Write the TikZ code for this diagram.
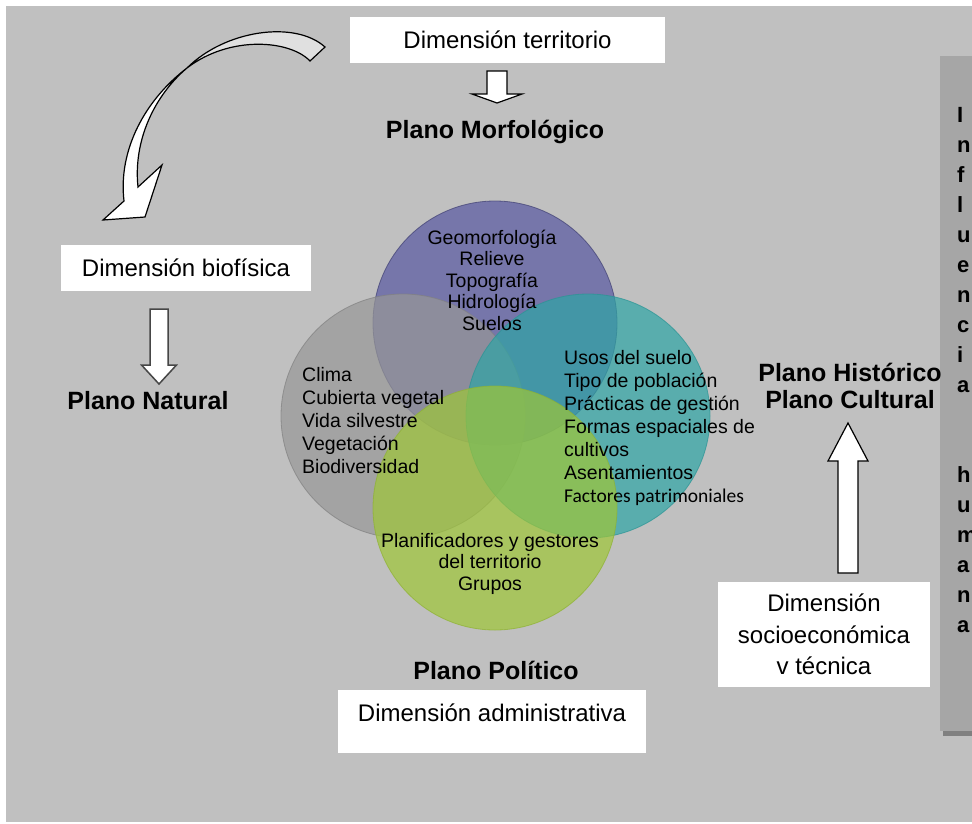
\documentclass[tikz,border=0pt]{standalone}
\usepackage{fontspec}
\setmainfont{Liberation Sans}
\newfontfamily\calibrifont{Carlito}
\usetikzlibrary{positioning}

\definecolor{bggrey}{HTML}{C0C0C0}
\definecolor{panelgrey}{HTML}{A6A6A6}
\definecolor{shadowgrey}{HTML}{808080}
\definecolor{vpurple}{HTML}{5858A1}
\definecolor{vgrey}{HTML}{979797}
\definecolor{vteal}{HTML}{2EA5A5}
\definecolor{vgreen}{HTML}{9EC637}
\colorlet{vpurpleline}{vpurple!70!black}
\colorlet{vgreyline}{vgrey!85!black}
\colorlet{vtealline}{vteal!90!black}
\colorlet{vgreenline}{vgreen!90!black}

\tikzset{>=latex}
\tikzstyle{whitebox}=[fill=white,inner sep=0pt,font=\fontsize{24}{31.5}\selectfont]
\tikzstyle{boxtext}=[inner sep=0pt,font=\fontsize{24}{31.5}\selectfont]
\tikzstyle{plane}=[inner sep=0pt,align=center,font=\bfseries\fontsize{25}{27}\selectfont]
\tikzstyle{venn}=[circle,minimum size=244pt,inner sep=0pt,opacity=0.7,line width=0.8pt]
\tikzstyle{venntext}=[inner sep=0pt,font=\fontsize{19.5}{23}\selectfont]
\tikzstyle{letter}=[inner sep=0pt,anchor=base west,font=\bfseries\fontsize{22}{30}\selectfont]
\tikzstyle{blockarrow}=[fill=white,draw=black,line width=1.2pt,line join=miter]

% block arrow: x, y start, y of head, y of tip, half shaft, half head
\newcommand{\blockarr}[7][]{%
  \draw[blockarrow,#1] (#2-#6,#3) -- (#2+#6,#3) -- (#2+#6,#4) -- (#2+#7,#4)
    -- (#2,#5) -- (#2-#7,#4) -- (#2-#6,#4) -- cycle;}

\begin{document}
\begin{tikzpicture}[x=1pt,y=-1pt]
  \useasboundingbox (0,0) rectangle (972,823);
  \fill[white] (0,0) rectangle (972,823);
  \fill[bggrey] (6,6) rectangle (972,822);

  % side panel
  \fill[shadowgrey] (943,731) rectangle (972,736);
  \fill[panelgrey] (940,56) rectangle (972,731);
  \foreach \ch [count=\i] in {I,n,f,l,u,e,n,c,i,a}
    \node[letter] (inf\i) at (957,{122+30*(\i-1)}) {\ch};
  \foreach \ch [count=\i] in {h,u,m,a,n,a}
    \node[letter] (hum\i) at (957,{482+30*(\i-1)}) {\ch};

  % venn circles
  \node[venn,fill=vpurple,draw=vpurpleline] (geo) at (495,323) {};
  \node[venn,fill=vgrey,draw=vgreyline] (bio) at (403,416) {};
  \node[venn,fill=vteal,draw=vtealline] (soc) at (588,416) {};
  \node[venn,fill=vgreen,draw=vgreenline] (adm) at (495,508) {};

  \node[venntext,align=center,font=\fontsize{19.5}{21.5}\selectfont] (geotext) at (492,280)
    {Geomorfología\\Relieve\\Topografía\\Hidrología\\Suelos};
  \node[venntext,align=left,anchor=west] (biotext) at (302,421)
    {Clima\\Cubierta vegetal\\Vida silvestre\\Vegetación\\Biodiversidad};
  \node[venntext,align=left,anchor=west] (soctext) at (564,427.5)
    {Usos del suelo\\Tipo de población\\Prácticas de gestión\\Formas espaciales de\\cultivos\\Asentamientos\\{\calibrifont Factores patrimoniales}};
  \node[venntext,align=center,font=\fontsize{19.5}{21.5}\selectfont] (admtext) at (490,563.5)
    {Planificadores y gestores\\del territorio\\Grupos};

  % dimensions and planes
  \node[whitebox,minimum width=315pt,minimum height=46pt] (territorio) at (507.5,40) {Dimensión territorio};
  \node[plane] (morfo) at (495,132) {Plano Morfológico};
  \node[whitebox,minimum width=250pt,minimum height=46pt] (biofisica) at (186,268) {Dimensión biofísica};
  \node[plane] (natural) at (148,401) {Plano Natural};
  \node[plane] (politico) at (496,670) {Plano Político};
  \node[whitebox,minimum width=308pt,minimum height=63pt] (administrativa) at (492,721.5) {};
  \node[boxtext] (admintext) at (492,713) {Dimensión administrativa};
  \node[plane] (historico) at (850,386) {Plano Histórico\\Plano Cultural};
  \node[whitebox,minimum width=212pt,minimum height=105pt,align=center] (socio) at (824,634.5)
    {Dimensión\\socioeconómica\\v técnica};

  % block arrows
  \blockarr{497}{71}{94}{103}{10}{25}
  \blockarr[draw=gray!55!black,line width=1.5pt]{159}{309}{365}{384}{9}{17.5}
  \blockarr{848}{573}{461}{423}{10}{20}

  % curved arrow
  \draw[blockarrow,fill=black!12] (325,47) .. controls (295,20) and (225,30) .. (187,68)
    .. controls (230,35) and (290,40) .. (310,61) -- cycle;
  \draw[blockarrow] (187,68) .. controls (145,100) and (118,150) .. (124,201) -- (103,220)
    -- (145,217) -- (162,165) -- (138,187) .. controls (133,140) and (155,95) .. (187,68) -- cycle;
\end{tikzpicture}
\end{document}
